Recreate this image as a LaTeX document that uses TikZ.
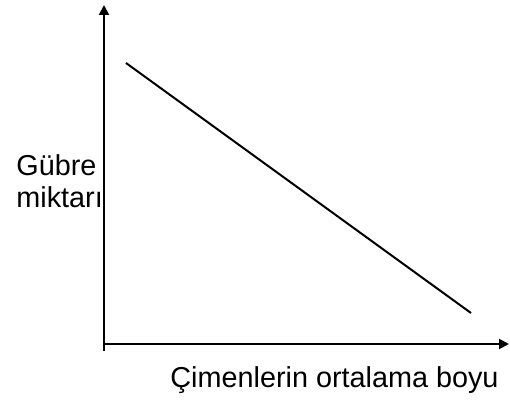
\documentclass[tikz,border=0pt]{standalone}
\usepackage{fontspec}
\setmainfont{Liberation Sans}
\usetikzlibrary{arrows.meta}

\begin{document}
\begin{tikzpicture}[x=0.5pt, y=-0.5pt,
	axis/.style={line width=1pt, -{Triangle[length=5pt, width=5pt]}},
	label/.style={inner sep=0pt, font=\fontsize{14.4}{16}\selectfont}]
			%%%%% START %%%%%
			
			\useasboundingbox (0, 0) rectangle (510, 400);
			
			\coordinate (ybot) at (104, 351);
			\coordinate (ytop) at (104, 5);
			\coordinate (xleft) at (104, 344);
			\coordinate (xright) at (509, 344);
			\coordinate (lstart) at (126, 63);
			\coordinate (lend) at (471, 313);
			
			\draw[axis] (ybot) -- (ytop);
			\draw[axis] (xleft) -- (xright);
			
			\draw[line width=1pt] (lstart) -- (lend);
			
			\node[label, anchor=base west] (gubre) at (16, 176) {Gübre};
			\node[label, anchor=base west] (miktar) at (16, 208) {miktarı};
			\node[label, anchor=base east] (boy) at (499, 388) {Çimenlerin ortalama boyu};
			
			%%%%% END %%%%%
		\end{tikzpicture}
\end{document}
